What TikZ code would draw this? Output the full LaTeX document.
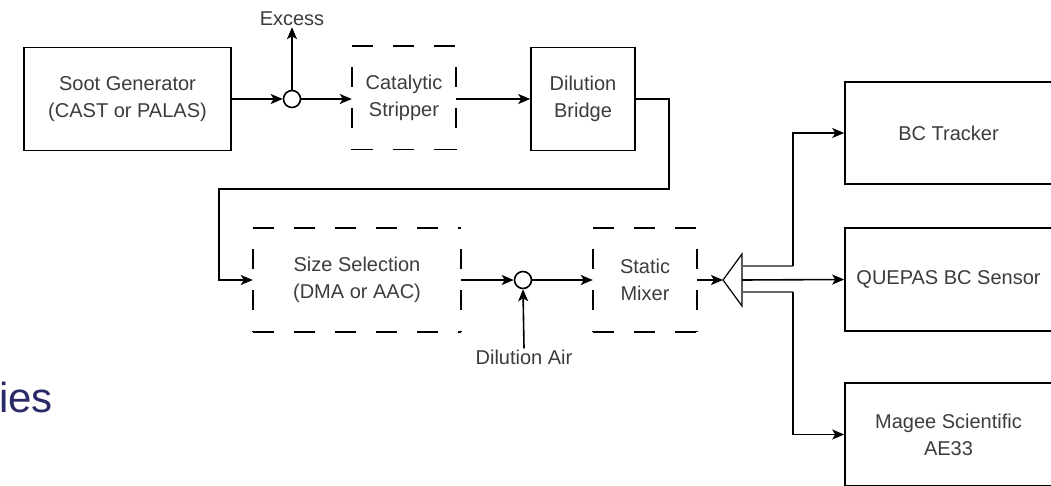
\documentclass[tikz,border=0pt]{standalone}
\usepackage{fontspec}
\setmainfont{Liberation Sans}
\usetikzlibrary{arrows.meta}
\definecolor{txt}{RGB}{60,60,60}
\definecolor{navy}{RGB}{43,42,104}
\begin{document}
\begin{tikzpicture}[x=1pt,y=-1pt,
  every node/.style={font=\fontsize{20}{27}\selectfont, text=txt, align=center},
  box/.style={draw=black, line width=1.6pt, rectangle, minimum height=103pt, inner sep=0pt},
  dbox/.style={rectangle, minimum height=103pt, inner sep=0pt},
  hdash/.style={line width=1.6pt, draw=black, dash pattern=on 21pt off 20pt},
  vdash/.style={line width=1.6pt, draw=black, dash pattern=on 20pt off 21pt, dash phase=41pt-21pt},
  junc/.style={draw=black, line width=1.6pt, circle, minimum size=17pt, inner sep=0pt, fill=white},
  flow/.style={line width=1.6pt, draw=black, -{Stealth[length=12pt,width=10pt,inset=3pt]}},
  branch/.style={line width=2.6pt, draw=black!60}
]
\clip (0,0) rectangle (1051,486);
\fill[white] (0,0) rectangle (1051,486);

% upper row
\node[box, minimum width=207pt] (soot) at (127.5,99) {Soot Generator\\(CAST or PALAS)};
\node[junc] (j1) at (292,99) {};
\node[inner sep=1pt] (excess) at (292,19) {Excess};
\node[dbox, minimum width=104pt] (cat) at (404,98) {Catalytic\\Stripper};
\node[box, minimum width=104pt] (bridge) at (583,99) {Dilution\\Bridge};

% lower row
\node[dbox, minimum width=208pt] (size) at (357,280) {Size Selection\\(DMA or AAC)};
\node[junc] (j2) at (523,280) {};
\node[inner sep=1pt] (dair) at (524,357) {Dilution Air};
\node[dbox, minimum width=104pt] (mix) at (645,280) {Static\\Mixer};

% dashed outlines: horizontal edges start with a dash, vertical edges with a gap
\foreach \n in {cat,size,mix}{
  \draw[hdash] (\n.north west) -- (\n.north east);
  \draw[hdash] (\n.south west) -- (\n.south east);
  \draw[vdash] (\n.north west) -- (\n.south west);
  \draw[vdash] (\n.north east) -- (\n.south east);
}

% instruments
\node[box, minimum width=207pt, minimum height=102pt] (bct) at (948.5,133) {BC Tracker};
\node[box, minimum width=207pt] (quepas) at (948.5,279.5) {QUEPAS BC Sensor};
\node[box, minimum width=207pt] (magee) at (948.5,434.5) {Magee Scientific\\AE33};

% splitter
\coordinate (apex) at (723,280);
\coordinate (btop) at (742,254);
\coordinate (bbot) at (742,306);
\coordinate (otop) at (742,266);
\coordinate (omid) at (742,280);
\coordinate (obot) at (742,292);
\coordinate (vtop) at (793,266);
\coordinate (vbot) at (793,292);
\draw[line width=1.2pt] (apex) -- (btop) -- (bbot) -- cycle;

% return route
\coordinate (r1) at (669,189);
\coordinate (r2) at (219,189);

% connectors
\draw[flow] (soot.east) -- (j1.west);
\draw[flow] (j1.north) -- (excess.south);
\draw[flow] (j1.east) -- (j1.east -| cat.west);
\draw[flow] (cat.east |- bridge.west) -- (bridge.west);
\draw[flow] (bridge.east) -| (r1) -- (r2) |- (size.west);
\draw[flow] (size.east) -- (j2.west);
\draw[flow] (dair.north) -- (j2.south);
\draw[flow] (j2.east) -- (mix.west);
\draw[flow] (mix.east) -- (apex);
\draw[branch] (otop) -- (vtop);
\draw[branch] (obot) -- (vbot);
\draw[flow] (vtop) |- (bct.west);
\draw[flow] (omid) -- (quepas.west);
\draw[flow] (vbot) |- (magee.west);

% cut-off slide text
\node[anchor=base east, inner sep=0pt, text=navy, font=\fontsize{42}{48}\selectfont] (ies) at (53,412) {ies};
\end{tikzpicture}
\end{document}
